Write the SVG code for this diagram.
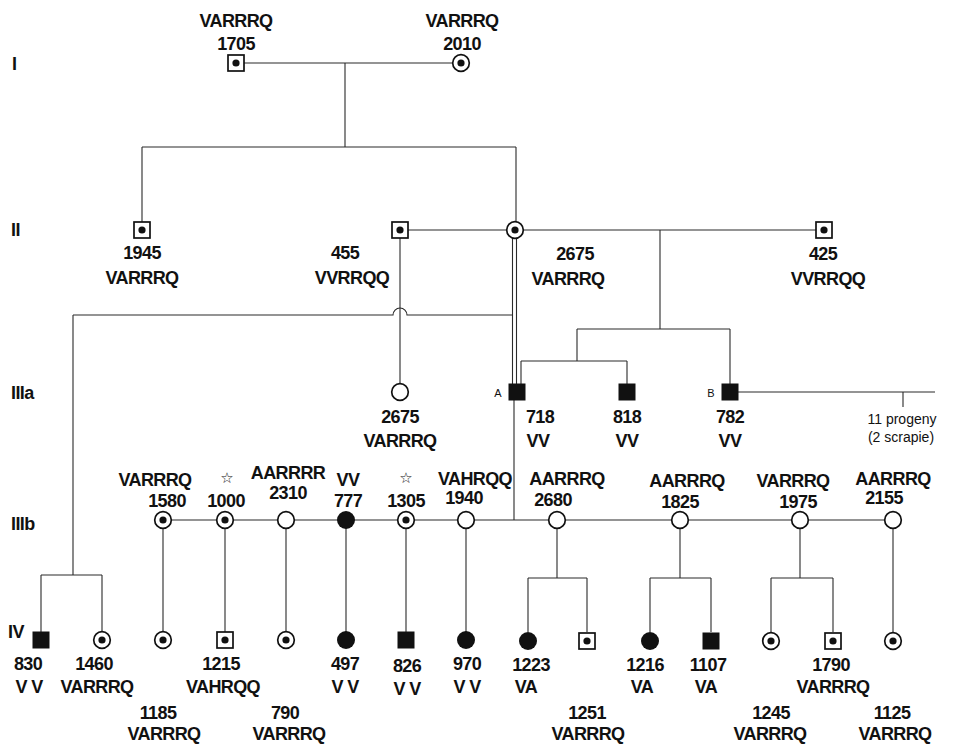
<svg xmlns="http://www.w3.org/2000/svg" xmlns:xlink="http://www.w3.org/1999/xlink" width="958" height="749" viewBox="0 0 958 749">
<style>
.bg{fill:#fff}
.ln{fill:none;stroke:#2a2a2a;stroke-width:1.1}
.nd{fill:#fff;stroke:#111;stroke-width:1.7}
.dot{fill:#111}
.fill{fill:#111}
text{font-family:"Liberation Sans",Arial,sans-serif;font-weight:bold;font-size:18px;letter-spacing:-0.6px;fill:#111;text-anchor:middle}
.gen{font-size:18px;text-anchor:start}
.sm{font-weight:normal;font-size:11px;letter-spacing:0}
.note{font-weight:normal;font-size:14px;letter-spacing:0}
.star{font-family:"DejaVu Sans",sans-serif;font-weight:bold;font-size:15px;letter-spacing:0}
</style>
<defs>
<g id="sqDot"><rect x="-8" y="-8" width="16" height="16" class="nd"/><circle r="3.6" class="dot"/></g>
<g id="sqFill"><rect x="-8.5" y="-8.5" width="17" height="17" class="fill"/></g>
<g id="ciDot"><circle r="8.3" class="nd"/><circle r="3.6" class="dot"/></g>
<g id="ciOpen"><circle r="8.3" class="nd"/></g>
<g id="ciFill"><circle r="9" class="fill"/></g>
</defs>
<rect class="bg" x="0" y="0" width="958" height="749"/>

<g id="generations">
<text class="gen" x="12" y="70">I</text>
<text class="gen" x="11" y="236">II</text>
<text class="gen" x="11" y="399">IIIa</text>
<text class="gen" x="11" y="530">IIIb</text>
<text class="gen" x="8" y="638">IV</text>
</g>

<g id="connectors">
<path class="ln" d="M236,63 H461 M345,63 V147 M142,147 H516 M142,147 V222 M516,147 V222"/>
<path class="ln" d="M400,230 H824 M660,230 V329 M577,329 H730 M577,329 V361 M521,361 H627 M521,361 V384 M627,361 V384 M730,329 V384"/>
<path class="ln" d="M512.5,238 V384 M516.5,238 V384"/>
<path class="ln" d="M400,238 V384"/>
<path class="ln" d="M73,315 H393 A7,7 0 0 1 407,315 H512.5"/>
<path class="ln" d="M514,400 V520 M163,520 H893"/>
<path class="ln" d="M738,392 H935 M903,392 V407"/>
<path class="ln" d="M73,315 V575 M41,575 H102 M41,575 V632 M102,575 V632"/>
<path class="ln" d="M163,520 V632 M225,520 V632 M286,520 V632 M346,520 V632 M406,520 V632 M466,520 V632"/>
<path class="ln" d="M557,520 V578 M528,578 H587 M528,578 V632 M587,578 V632"/>
<path class="ln" d="M680,520 V578 M650,578 H711 M650,578 V632 M711,578 V632"/>
<path class="ln" d="M800,520 V578 M771,578 H833 M771,578 V632 M833,578 V632"/>
<path class="ln" d="M893,520 V632"/>
</g>

<g id="n1705"><use xlink:href="#sqDot" x="236" y="63"/><text x="236" y="27">VARRRQ</text><text x="236" y="50">1705</text></g>
<g id="n2010"><use xlink:href="#ciDot" x="461" y="63"/><text x="462" y="27">VARRRQ</text><text x="462" y="50">2010</text></g>

<g id="n1945"><use xlink:href="#sqDot" x="142" y="230"/><text x="142" y="259">1945</text><text x="142" y="284">VARRRQ</text></g>
<g id="n455"><use xlink:href="#sqDot" x="400" y="230"/><text x="345" y="259">455</text><text x="352" y="284">VVRRQQ</text></g>
<g id="n2675a"><use xlink:href="#ciDot" x="515" y="230"/><text x="575" y="260">2675</text><text x="568" y="285">VARRRQ</text></g>
<g id="n425"><use xlink:href="#sqDot" x="824" y="230"/><text x="823" y="260">425</text><text x="828" y="285">VVRRQQ</text></g>

<g id="n2675b"><use xlink:href="#ciOpen" x="400" y="392"/><text x="400" y="423">2675</text><text x="400" y="447">VARRRQ</text></g>
<g id="n718"><use xlink:href="#sqFill" x="517" y="392"/><text class="sm" x="498" y="397">A</text><text x="540" y="423">718</text><text x="538" y="447">VV</text></g>
<g id="n818"><use xlink:href="#sqFill" x="627" y="392"/><text x="627" y="423">818</text><text x="627" y="447">VV</text></g>
<g id="n782"><use xlink:href="#sqFill" x="730" y="392"/><text class="sm" x="711" y="397">B</text><text x="730" y="423">782</text><text x="730" y="447">VV</text></g>
<g id="progeny"><text class="note" x="902" y="424">11 progeny</text><text class="note" x="901" y="442">(2 scrapie)</text></g>

<g id="n1580"><use xlink:href="#ciDot" x="163" y="520"/><text x="155" y="486">VARRRQ</text><text x="167" y="507">1580</text></g>
<g id="n1000"><use xlink:href="#ciDot" x="225" y="520"/><text class="star" x="227" y="483">☆</text><text x="226" y="507">1000</text></g>
<g id="n2310"><use xlink:href="#ciOpen" x="286" y="520"/><text x="288" y="479">AARRRR</text><text x="288" y="499">2310</text></g>
<g id="n777"><use xlink:href="#ciFill" x="346" y="520"/><text x="348" y="486">VV</text><text x="348" y="507">777</text></g>
<g id="n1305"><use xlink:href="#ciDot" x="406" y="520"/><text class="star" x="406" y="483">☆</text><text x="406" y="507">1305</text></g>
<g id="n1940"><use xlink:href="#ciOpen" x="466" y="520"/><text x="475" y="485">VAHRQQ</text><text x="464" y="504">1940</text></g>
<g id="n2680"><use xlink:href="#ciOpen" x="557" y="520"/><text x="567" y="485">AARRRQ</text><text x="553" y="506">2680</text></g>
<g id="n1825"><use xlink:href="#ciOpen" x="680" y="520"/><text x="687" y="487">AARRRQ</text><text x="680" y="508">1825</text></g>
<g id="n1975"><use xlink:href="#ciOpen" x="800" y="520"/><text x="793" y="487">VARRRQ</text><text x="798" y="508">1975</text></g>
<g id="n2155"><use xlink:href="#ciOpen" x="893" y="520"/><text x="893" y="485">AARRRQ</text><text x="884" y="504">2155</text></g>

<g id="n830"><use xlink:href="#sqFill" x="41" y="640"/><text x="28" y="670">830</text><text x="29" y="693">V V</text></g>
<g id="n1460"><use xlink:href="#ciDot" x="102" y="640"/><text x="94" y="670">1460</text><text x="97" y="693">VARRRQ</text></g>
<g id="n1185"><use xlink:href="#ciDot" x="163" y="640"/><text x="158" y="719">1185</text><text x="164" y="740">VARRRQ</text></g>
<g id="n1215"><use xlink:href="#sqDot" x="225" y="640"/><text x="221" y="670">1215</text><text x="223" y="693">VAHRQQ</text></g>
<g id="n790"><use xlink:href="#ciDot" x="286" y="640"/><text x="285" y="719">790</text><text x="289" y="740">VARRRQ</text></g>
<g id="n497"><use xlink:href="#ciFill" x="346" y="640"/><text x="345" y="670">497</text><text x="345" y="693">V V</text></g>
<g id="n826"><use xlink:href="#sqFill" x="406" y="640"/><text x="407" y="672">826</text><text x="407" y="695">V V</text></g>
<g id="n970"><use xlink:href="#ciFill" x="466" y="640"/><text x="467" y="670">970</text><text x="467" y="693">V V</text></g>
<g id="n1223"><use xlink:href="#ciFill" x="528" y="641"/><text x="531" y="671">1223</text><text x="526" y="693">VA</text></g>
<g id="n1251"><use xlink:href="#sqDot" x="587" y="641"/><text x="587" y="719">1251</text><text x="588" y="740">VARRRQ</text></g>
<g id="n1216"><use xlink:href="#ciFill" x="650" y="641"/><text x="645" y="671">1216</text><text x="642" y="693">VA</text></g>
<g id="n1107"><use xlink:href="#sqFill" x="711" y="641"/><text x="708" y="671">1107</text><text x="706" y="693">VA</text></g>
<g id="n1245"><use xlink:href="#ciDot" x="771" y="641"/><text x="771" y="719">1245</text><text x="770" y="740">VARRRQ</text></g>
<g id="n1790"><use xlink:href="#sqDot" x="833" y="641"/><text x="831" y="671">1790</text><text x="833" y="693">VARRRQ</text></g>
<g id="n1125"><use xlink:href="#ciDot" x="893" y="641"/><text x="892" y="719">1125</text><text x="895" y="740">VARRRQ</text></g>
</svg>
